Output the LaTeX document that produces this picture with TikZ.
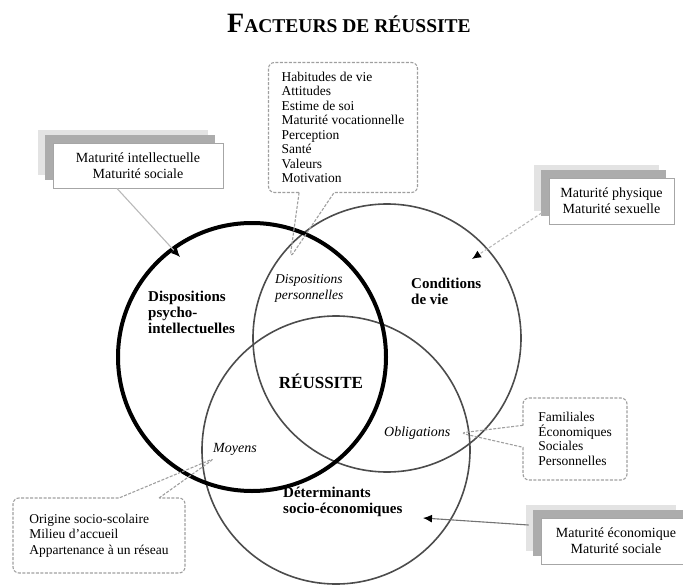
\documentclass[tikz,border=0pt]{standalone}
\usepackage{fontspec}
\setmainfont{Liberation Serif}
\usetikzlibrary{positioning,shapes.callouts,shadows,arrows.meta}
\newcommand\bubtxt{\fontsize{13.5}{14.5}\selectfont}
\newcommand\zonetxt{\fontsize{15}{16}\selectfont\bfseries}
\tikzset{
  venn/.style={circle, draw=black!70, line width=1.6pt, minimum size=268pt, inner sep=0pt},
  bubble/.style={rectangle callout, rounded corners=6pt, draw=gray!75, line width=1.1pt,
    dash pattern=on 3pt off 1.5pt, align=left, inner sep=0pt, font=\bubtxt},
  matbox/.style={draw=gray!70, line width=0.9pt, fill=white, align=center, inner sep=0pt,
    minimum height=46pt, font=\fontsize{14}{16}\selectfont,
    general shadow={fill=gray!22, shadow xshift=-15pt, shadow yshift=13pt},
    general shadow={fill=gray!65, shadow xshift=-8pt, shadow yshift=8pt}},
  zone/.style={align=left, inner sep=0pt, font=\zonetxt},
  inzone/.style={align=left, inner sep=0pt, font=\fontsize{14}{16}\selectfont\itshape},
  conn/.style={draw=gray!55, line width=1.1pt, -{Latex[length=9pt,width=8pt,color=black]}}
}
\begin{document}
\begin{tikzpicture}[x=1pt,y=-1pt]
  \useasboundingbox (0,0) rectangle (683,586);
  % titre
  \node[font=\bfseries] (titre) at (349,23)
    {{\fontsize{28}{28}\selectfont F}{\fontsize{19.5}{20}\selectfont ACTEURS DE RÉUSSITE}};
  % les trois cercles
  \node[venn] (cond) at (387,338) {};
  \node[venn] (determ) at (336,450) {};
  \node[venn, draw=black, line width=4pt] (psy) at (252,357) {};
  % textes dans les cercles
  \node[zone, anchor=west] (psytxt) at (148,312) {Dispositions\\psycho-\\intellectuelles};
  \node[zone, anchor=west] (condtxt) at (411,291) {Conditions\\de vie};
  \node[zone, anchor=west] (dettxt) at (283,502) {Déterminants\\socio-économiques};
  \node[font=\fontsize{17}{18}\selectfont\bfseries] (reussite) at (321,381) {RÉUSSITE};
  \node[inzone, font=\fontsize{13.5}{16}\selectfont\itshape, anchor=west] (perstxt) at (275,288)
    {Dispositions\\personnelles};
  \node[inzone, anchor=west] (oblig) at (384,433) {Obligations};
  \node[inzone, anchor=west] (moyens) at (213,449) {Moyens};
  % bulles
  \coordinate (tipA) at (290,258);
  \coordinate (tipB) at (460,433);
  \coordinate (tipC) at (215,458);
  \node[bubble, minimum width=149pt, minimum height=130pt, callout pointer width=35pt,
    callout absolute pointer={(tipA)}] (habitudes) at (343,127.5)
    {Habitudes de vie\\Attitudes\\Estime de soi\\Maturité vocationnelle\\Perception\\Santé\\Valeurs\\Motivation};
  \node[bubble, minimum width=104pt, minimum height=82pt, callout pointer width=22pt,
    callout absolute pointer={(tipB)}] (familiales) at (575,439)
    {Familiales\\Économiques\\Sociales\\Personnelles};
  \node[bubble, font=\fontsize{13.5}{15.5}\selectfont, minimum width=172pt, minimum height=75pt,
    callout pointer width=40pt, callout absolute pointer={(tipC)}] (origine) at (99,535.5)
    {Origine socio-scolaire\\Milieu d’accueil\\Appartenance à un réseau};
  % boites de maturite
  \node[matbox, minimum width=170pt, minimum height=45pt] (intel) at (138,165.5)
    {Maturité intellectuelle\\Maturité sociale};
  \node[matbox, minimum width=125pt] (phys) at (611.5,201)
    {Maturité physique\\Maturité sexuelle};
  \node[matbox, minimum width=150pt] (econ) at (616,541)
    {Maturité économique\\Maturité sociale};
  \coordinate (tipI) at (180,257);
  \coordinate (tipP) at (472,259);
  \coordinate (tipE) at (423,518);
  \begin{scope}
    \draw[conn] ([xshift=-21pt]intel.south) -- (tipI);
    \draw[conn, densely dashed] ([shift={(-7pt,-12pt)}]phys.west) -- (tipP);
    \draw[conn, draw=black!55] ([shift={(-12pt,16pt)}]econ.west) -- (tipE);
  \end{scope}
\end{tikzpicture}
\end{document}
